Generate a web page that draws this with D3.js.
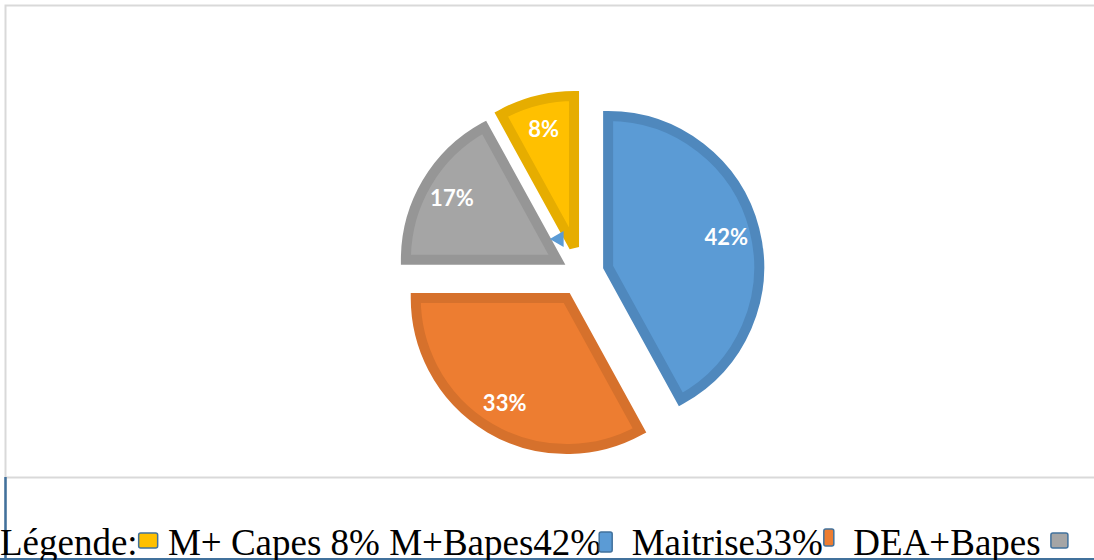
<!DOCTYPE html>
<html>
<head>
<meta charset="utf-8">
<script src="https://cdn.jsdelivr.net/npm/d3@7"></script>
<style>
  body { margin: 0; background: #fff; }
  svg { display: block; }
</style>
</head>
<body>
<svg id="chart"></svg>
<script>
const categories = ["M+Bapes", "Maitrise", "DEA+Bapes", "M+ Capes"];
const values = [42, 33, 17, 8];
const fills = ["#5b9bd5", "#ed7d31", "#a5a5a5", "#ffc000"];
const borders = ["#4f88bd", "#d6712c", "#969696", "#e6ad00"];

// legend line, as written under the chart (text, then the marker of a slice)
const legendTexts = ["Légende:", " M+ Capes 8% M+Bapes42%", "  Maitrise33%", "  DEA+Bapes "];
const legendSlice = [3, 0, 1, 2];

const W = 1094, H = 560;
const cx = 581, cy = 274;
const radius = 151;
const explode = 28;
const labelRadius = 122;

const svg = d3.select("#chart").attr("width", W).attr("height", H);

// chart frame
svg.append("path")
  .attr("d", "M5.5," + (H + 10) + " V5.5 H" + (W + 10))
  .attr("fill", "none").attr("stroke", "#d9d9d9").attr("stroke-width", 2);
svg.append("line")
  .attr("x1", 5).attr("x2", W + 10).attr("y1", 477.5).attr("y2", 477.5)
  .attr("stroke", "#d9d9d9").attr("stroke-width", 2);
svg.append("line")
  .attr("x1", 5.5).attr("x2", 5.5).attr("y1", 477).attr("y2", H)
  .attr("stroke", "#41719c").attr("stroke-width", 2.5);
svg.append("line")
  .attr("x1", 0).attr("x2", W).attr("y1", 559).attr("y2", 559)
  .attr("stroke", "#41719c").attr("stroke-width", 2);

const pie = d3.pie().sort(null).value(d => d);
const arcs = pie(values);
const arc = d3.arc().innerRadius(0).outerRadius(radius);

const g = svg.append("g").attr("transform", "translate(" + cx + "," + cy + ")");

const slice = g.selectAll(".slice")
  .data(arcs)
  .enter()
  .append("g")
  .attr("class", "slice")
  .attr("transform", d => {
    const mid = (d.startAngle + d.endAngle) / 2;
    return "translate(" + (explode * Math.sin(mid)) + "," + (-explode * Math.cos(mid)) + ")";
  });

slice.append("path")
  .attr("d", arc)
  .attr("fill", (d, i) => fills[i])
  .attr("stroke", (d, i) => borders[i])
  .attr("stroke-width", 10)
  .attr("stroke-linejoin", "miter")
  .attr("stroke-miterlimit", 2.5);

slice.append("text")
  .attr("x", d => labelRadius * Math.sin((d.startAngle + d.endAngle) / 2))
  .attr("y", d => -labelRadius * Math.cos((d.startAngle + d.endAngle) / 2))
  .attr("dy", "0.36em")
  .attr("text-anchor", "middle")
  .attr("font-family", "Lato, 'Open Sans', sans-serif")
  .attr("font-weight", "bold")
  .attr("font-size", 22)
  .attr("fill", "#fff")
  .text(d => d.data + "%");

// small stray marker left of the thin slice
g.append("path")
  .attr("d", d3.symbol().type(d3.symbolTriangle).size(110))
  .attr("transform", "translate(-22,-35) rotate(-90)")
  .attr("fill", fills[0]);

// legend
const markerSize = [[13, 20], [10, 17], [17, 15], [19, 15]];
const markerDy = [-23, -26, -22, -22];
const legend = svg.append("g").attr("class", "legend");
let x = 0;
const baseline = 555;
legendTexts.forEach((t, i) => {
  const txt = legend.append("text")
    .attr("x", x).attr("y", baseline)
    .attr("font-family", "'Liberation Serif', 'Times New Roman', serif")
    .attr("font-size", 37)
    .attr("fill", "#000")
    .style("white-space", "pre")
    .text(t);
  x += txt.node().getComputedTextLength();
  const s = legendSlice[i];
  const sz = markerSize[s];
  if (i === 1) x -= 3;
  legend.append("rect")
    .attr("x", x + 1).attr("y", baseline + markerDy[s])
    .attr("width", sz[0]).attr("height", sz[1])
    .attr("rx", 2)
    .attr("fill", fills[s])
    .attr("stroke", "#41719c")
    .attr("stroke-width", 1.5);
  x += sz[0] + 2;
});
</script>
</body>
</html>
